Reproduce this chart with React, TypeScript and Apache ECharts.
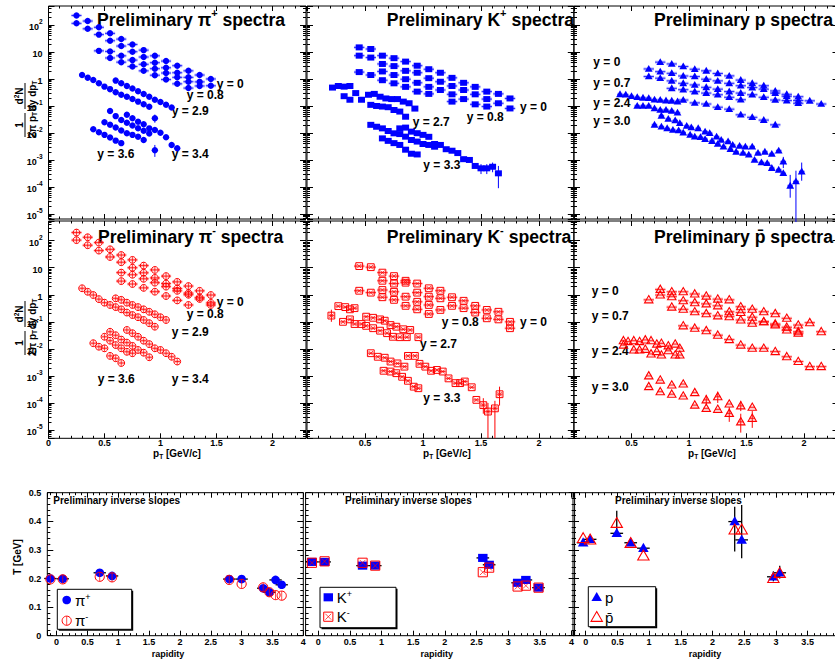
import React, { useEffect, useRef } from "react";
import * as echarts from "echarts";

const FF = '"Liberation Sans", Arial, Helvetica, sans-serif';
const BLUE = "#0000ff";
const RED = "#ff0000";
const BLUE_BAND = "rgba(90,90,255,0.35)";
const RED_BAND = "rgba(255,90,90,0.35)";

// ---------- spectra: [pT (GeV/c), 1/(2pi pT) d2N/dy dpT] ----------
const PIP_Y0 = [
  [0.25, 225], [0.35, 140], [0.45, 82], [0.55, 49], [0.65, 30], [0.75, 19], [0.85, 11.7], [0.95, 7.2], [1.05, 4.6], [1.15, 3.1], [1.25, 2.0], [1.35, 1.4], [1.45, 1.0],
  [0.25, 115], [0.35, 72], [0.45, 44], [0.55, 26], [0.65, 16.6], [0.75, 10.2], [0.85, 6.5], [0.95, 4.0], [1.05, 2.6], [1.15, 1.7], [1.25, 1.15], [1.35, 0.78], [1.45, 0.56],
];
const PIP_Y08 = [
  [0.45, 11], [0.55, 10.5], [0.65, 7.2], [0.75, 5.0], [0.85, 3.5], [0.95, 2.4], [1.05, 1.66], [1.15, 1.15], [1.25, 0.79], [1.35, 0.55],
  [0.55, 6.0], [0.65, 4.2], [0.75, 2.9], [0.85, 2.0], [0.95, 1.38], [1.05, 0.95], [1.15, 0.66], [1.25, 0.46],
];
const PIP_Y29 = [
  [0.3, 1.41], [0.35, 1.12], [0.4, 0.92], [0.45, 0.69], [0.5, 0.52], [0.55, 0.42], [0.6, 0.32], [0.65, 0.26], [0.7, 0.22], [0.75, 0.18], [0.8, 0.145], [0.85, 0.115], [0.9, 0.094], [0.95, 0.035],
  [0.6, 0.87], [0.65, 0.69], [0.7, 0.55], [0.75, 0.44], [0.8, 0.35], [0.85, 0.28], [0.9, 0.22], [0.95, 0.17], [1.0, 0.14], [1.05, 0.11], [1.1, 0.087],
];
const PIP_Y34 = [
  [0.7, 0.047], [0.75, 0.035], [0.8, 0.026], [0.85, 0.021], [0.9, 0.0148], [0.95, 0.0128], [1.0, 0.0102], [1.05, 0.0069], [1.1, 0.0036], [1.15, 0.0027],
  [0.55, 0.065], [0.6, 0.042], [0.65, 0.03], [0.7, 0.024], [0.75, 0.019], [0.8, 0.015], [0.85, 0.012], [0.9, 0.0095], [0.95, 0.0023],
];
const PIP_Y36 = [
  [0.5, 0.025], [0.55, 0.02], [0.6, 0.0158], [0.65, 0.0123], [0.7, 0.0098], [0.75, 0.0085], [0.8, 0.0072], [0.85, 0.0055],
  [0.4, 0.0138], [0.45, 0.0107], [0.5, 0.0085], [0.55, 0.0068], [0.6, 0.0052], [0.65, 0.0042],
];
const PIP_ERR = [[0.95, 0.035, 0.024, 0.048], [0.95, 0.0023, 0.0013, 0.0036]];

const KP_Y0 = [
  [0.45, 14.8], [0.55, 12.9], [0.65, 7.3], [0.75, 5.9], [0.85, 4.4], [0.95, 3.1], [1.05, 2.3], [1.15, 1.7], [1.25, 1.1], [1.35, 0.72], [1.45, 0.51], [1.55, 0.34], [1.65, 0.28], [1.75, 0.19],
  [0.45, 7.3], [0.55, 6.2], [0.65, 3.6], [0.75, 3.0], [0.85, 2.0], [0.95, 1.7], [1.05, 1.07], [1.15, 0.79], [1.25, 0.55], [1.35, 0.39], [1.45, 0.27], [1.55, 0.18], [1.65, 0.126], [1.75, 0.081],
];
const KP_Y08 = [
  [0.45, 1.8], [0.55, 1.4], [0.65, 1.9], [0.75, 1.4], [0.85, 0.98], [0.95, 0.72], [1.05, 0.51], [1.15, 0.39], [1.25, 0.27], [1.35, 0.18], [1.45, 0.115], [1.55, 0.095],
  [0.65, 0.9], [0.75, 0.69], [0.85, 0.51], [0.95, 0.34], [1.05, 0.28], [1.25, 0.145],
];
const KP_Y27 = [
  [0.22, 0.48], [0.27, 0.55], [0.32, 0.52], [0.37, 0.55],
  [0.32, 0.23], [0.37, 0.17], [0.42, 0.3], [0.47, 0.17],
  [0.53, 0.26], [0.58, 0.28], [0.63, 0.22], [0.68, 0.19], [0.73, 0.18], [0.78, 0.18], [0.83, 0.145], [0.88, 0.126], [0.93, 0.08],
  [0.55, 0.11], [0.6, 0.1], [0.65, 0.095], [0.7, 0.09], [0.75, 0.071], [0.8, 0.062], [0.85, 0.04],
];
const KP_Y33 = [
  [0.55, 0.02], [0.6, 0.017], [0.65, 0.0148], [0.7, 0.0118], [0.75, 0.0097], [0.8, 0.0091], [0.85, 0.0073], [0.9, 0.0055], [0.95, 0.0048], [1.0, 0.0039], [1.05, 0.0036], [1.1, 0.0031],
  [0.8, 0.0148], [0.85, 0.0158], [0.9, 0.0112], [0.95, 0.0098], [1.0, 0.0085], [1.05, 0.0072], [1.1, 0.0039], [1.15, 0.0036], [1.2, 0.0025], [1.25, 0.0022], [1.3, 0.0018], [1.35, 0.00107], [1.4, 0.001], [1.45, 0.0006], [1.5, 0.00049], [1.55, 0.00049], [1.6, 0.00056], [1.65, 0.00032],
  [0.65, 0.0063], [0.7, 0.0051], [0.75, 0.0042], [0.8, 0.0036], [0.85, 0.0024], [0.9, 0.0017], [0.95, 0.0016],
];
const KP_ERR = [[1.65, 0.00032, 0.00009, 0.0006], [1.5, 0.00049, 0.0003, 0.0007], [1.55, 0.00049, 0.0003, 0.0007], [1.6, 0.00056, 0.00035, 0.0008]];

const P_Y0 = [
  [0.75, 4.2], [0.85, 3.6], [0.95, 2.9], [1.05, 2.3], [1.15, 2.0], [1.25, 1.6], [1.35, 1.3], [1.45, 0.91], [1.55, 0.69], [1.65, 0.56], [1.75, 0.36], [1.85, 0.27], [1.95, 0.22], [2.05, 0.155], [2.15, 0.118],
  [0.65, 2.35], [0.75, 1.86], [0.85, 1.62], [0.95, 1.29], [1.05, 1.23], [1.15, 0.98], [1.25, 0.85], [1.35, 0.69], [1.45, 0.56], [1.55, 0.48], [1.65, 0.42], [1.75, 0.3], [1.85, 0.23], [1.95, 0.16],
];
const P_Y07 = [
  [0.65, 1.23], [0.75, 1.07], [0.85, 0.85], [0.95, 0.69], [1.05, 0.6], [1.15, 0.49], [1.25, 0.42], [1.35, 0.34], [1.45, 0.3], [1.55, 0.26], [1.65, 0.21], [1.75, 0.166], [1.85, 0.158], [1.95, 0.126],
  [0.85, 0.45], [0.95, 0.4], [1.05, 0.34], [1.15, 0.3], [1.25, 0.26], [1.35, 0.21], [1.45, 0.17],
  [0.95, 0.166], [1.05, 0.13], [1.15, 0.118], [1.25, 0.09], [1.35, 0.076], [1.45, 0.047], [1.55, 0.038], [1.65, 0.03], [1.75, 0.02],
];
const P_Y24 = [
  [0.4, 0.27], [0.45, 0.26], [0.5, 0.23], [0.55, 0.21], [0.6, 0.2], [0.65, 0.195], [0.7, 0.17], [0.75, 0.166], [0.8, 0.158], [0.85, 0.155], [0.9, 0.145],
  [0.55, 0.1], [0.6, 0.1], [0.65, 0.1], [0.7, 0.081], [0.75, 0.071], [0.8, 0.071], [0.85, 0.065], [0.9, 0.056],
];
const P_Y30 = [
  [0.76, 0.043], [0.82, 0.033], [0.88, 0.029], [0.92, 0.023], [0.98, 0.018], [1.02, 0.016], [1.08, 0.0148], [1.14, 0.0112], [1.18, 0.0098], [1.24, 0.0072], [1.28, 0.0055], [1.34, 0.0048], [1.38, 0.0036], [1.44, 0.0033], [1.49, 0.0031], [1.55, 0.0031], [1.6, 0.0018], [1.66, 0.002], [1.72, 0.00166], [1.78, 0.0022], [1.82, 0.00087],
  [0.7, 0.02], [0.76, 0.017], [0.81, 0.0148], [0.86, 0.0129], [0.91, 0.0123], [0.95, 0.0102], [1.01, 0.0085], [1.05, 0.0072], [1.1, 0.0069], [1.14, 0.0059], [1.2, 0.005], [1.25, 0.0039], [1.3, 0.0031], [1.36, 0.0025], [1.41, 0.002], [1.47, 0.0018], [1.52, 0.00155], [1.57, 0.001], [1.63, 0.00081], [1.68, 0.00076], [1.72, 0.0005], [1.78, 0.00043], [1.82, 0.00032],
  [1.88, 0.00011], [1.93, 0.00016], [1.98, 0.00037],
];
const P_ERR = [[1.88, 0.00011, 0.00004, 0.00028], [1.93, 0.00016, 0.000005, 0.0004], [1.98, 0.00037, 0.00017, 0.0008], [1.82, 0.00087, 0.0005, 0.0013]];

const PIM_Y0 = [
  [0.25, 200], [0.35, 134], [0.45, 85], [0.55, 48], [0.65, 29.5], [0.75, 19.5], [0.85, 12], [0.95, 8.3], [1.05, 4.9], [1.15, 3.0], [1.25, 2.1], [1.35, 1.4], [1.45, 0.98],
  [0.25, 105], [0.35, 68], [0.45, 43], [0.55, 25], [0.65, 16], [0.75, 10], [0.85, 6.5], [0.95, 4.2], [1.05, 2.6], [1.15, 1.7], [1.25, 1.15], [1.35, 0.8], [1.45, 0.42],
];
const PIM_Y08 = [
  [0.65, 6.6], [0.75, 5.5], [0.85, 3.9], [0.95, 2.8], [1.05, 2.0], [1.15, 1.4], [1.25, 1.0], [1.35, 0.7], [1.45, 0.5],
  [0.65, 3.2], [0.75, 2.5], [0.85, 1.8], [0.95, 1.3], [1.05, 0.9], [1.15, 0.62], [1.25, 0.42],
];
const PIM_Y29 = [
  [0.3, 1.74], [0.35, 1.29], [0.4, 0.98], [0.45, 0.69], [0.5, 0.51], [0.55, 0.42], [0.6, 0.35], [0.65, 0.29], [0.7, 0.22], [0.75, 0.178], [0.8, 0.148], [0.85, 0.117], [0.9, 0.089], [0.95, 0.066],
  [0.6, 0.74], [0.65, 0.65], [0.7, 0.51], [0.75, 0.42], [0.8, 0.35], [0.85, 0.29], [0.9, 0.235], [0.95, 0.19], [1.0, 0.148], [1.05, 0.117],
];
const PIM_Y34 = [
  [0.7, 0.05], [0.75, 0.038], [0.8, 0.028], [0.85, 0.02], [0.9, 0.015], [0.95, 0.0105], [1.0, 0.0091], [1.05, 0.0069], [1.1, 0.0051], [1.15, 0.0034],
  [0.55, 0.043], [0.6, 0.032], [0.65, 0.022], [0.7, 0.017], [0.75, 0.0129], [0.8, 0.0091], [0.85, 0.0072], [0.9, 0.0049],
];
const PIM_Y36 = [
  [0.5, 0.028], [0.55, 0.02], [0.6, 0.0138], [0.65, 0.0105], [0.7, 0.0078], [0.75, 0.0069],
  [0.4, 0.0162], [0.45, 0.012], [0.5, 0.0105], [0.55, 0.0055], [0.6, 0.0045], [0.65, 0.003],
];

const KM_Y0 = [
  [0.45, 11.5], [0.55, 10.5], [0.65, 6.6], [0.75, 4.9], [0.85, 3.3], [0.95, 2.6], [1.05, 1.74], [1.15, 1.41], [1.25, 0.81], [1.35, 0.6], [1.45, 0.39], [1.55, 0.275], [1.65, 0.235], [1.75, 0.1],
  [0.65, 3.3], [0.75, 2.6], [0.85, 2.8], [0.95, 1.2], [1.05, 0.85], [1.15, 0.74], [1.25, 0.39], [1.35, 0.32], [1.45, 0.22], [1.55, 0.135], [1.65, 0.123], [1.75, 0.058],
];
const KM_Y08 = [
  [0.45, 1.41], [0.55, 1.2], [0.65, 1.5], [0.75, 1.29], [0.85, 0.85], [0.95, 0.55], [1.05, 0.42], [1.15, 0.275],
  [0.65, 0.81], [0.75, 0.65], [0.85, 0.39], [0.95, 0.29], [1.05, 0.195],
];
const KM_Y27 = [
  [0.21, 0.17], [0.27, 0.38], [0.33, 0.35], [0.37, 0.29], [0.41, 0.32],
  [0.51, 0.155], [0.57, 0.141], [0.63, 0.123], [0.67, 0.11], [0.72, 0.076], [0.77, 0.066], [0.83, 0.053], [0.89, 0.05], [0.96, 0.027],
  [0.31, 0.1], [0.37, 0.123], [0.41, 0.083], [0.47, 0.083], [0.51, 0.071], [0.57, 0.058], [0.63, 0.047], [0.69, 0.038], [0.74, 0.028], [0.8, 0.027], [0.86, 0.027],
];
const KM_Y33 = [
  [0.55, 0.0069], [0.61, 0.0051], [0.67, 0.0047], [0.72, 0.0034], [0.78, 0.0029], [0.84, 0.0022],
  [0.87, 0.0055], [0.93, 0.0055], [0.97, 0.0028], [1.02, 0.0022], [1.07, 0.00155], [1.12, 0.00166], [1.17, 0.00145], [1.22, 0.00081], [1.28, 0.00054], [1.32, 0.00054], [1.36, 0.00062], [1.42, 0.00038], [1.46, 0.00013], [1.52, 0.000083], [1.56, 0.000048], [1.62, 0.000063], [1.66, 0.00021],
  [0.66, 0.00155], [0.72, 0.00145], [0.77, 0.00126], [0.82, 0.00093], [0.87, 0.00066], [0.92, 0.0004], [0.96, 0.00035],
];
const KM_ERR = [[0.21, 0.17, 0.1, 0.28], [1.52, 0.000083, 0.00004, 0.00015], [1.56, 0.000048, 0.000005, 0.0001], [1.62, 0.000063, 0.000005, 0.00012], [1.66, 0.00021, 0.00008, 0.0004]];

const PBAR_Y0 = [
  [0.75, 1.58], [0.85, 1.29], [0.95, 1.29], [1.05, 1.07], [1.15, 0.89], [1.25, 0.69], [1.35, 0.65], [1.45, 0.36], [1.55, 0.29], [1.65, 0.235], [1.75, 0.2], [1.85, 0.135], [1.95, 0.076], [2.05, 0.093], [2.15, 0.043],
  [0.65, 0.65], [0.75, 0.98], [0.85, 0.85], [0.95, 0.6], [1.05, 0.51], [1.15, 0.46], [1.25, 0.39], [1.35, 0.235], [1.45, 0.22], [1.55, 0.148], [1.65, 0.1], [1.75, 0.083], [1.85, 0.05], [1.95, 0.043],
];
const PBAR_Y07 = [
  [0.85, 0.35], [0.95, 0.29], [1.05, 0.235], [1.15, 0.2], [1.25, 0.166], [1.35, 0.155], [1.45, 0.117], [1.55, 0.089], [1.65, 0.1], [1.75, 0.076], [1.85, 0.063], [1.95, 0.038],
  [0.95, 0.071], [1.05, 0.058], [1.15, 0.047], [1.25, 0.032], [1.35, 0.022], [1.45, 0.0138], [1.55, 0.0105], [1.65, 0.0105], [1.75, 0.0079], [1.85, 0.0051], [1.95, 0.0034], [2.05, 0.0022], [2.15, 0.0022],
];
const PBAR_Y24 = [
  [0.43, 0.02], [0.47, 0.0186], [0.52, 0.02], [0.57, 0.0186], [0.62, 0.0214], [0.67, 0.02], [0.72, 0.015], [0.76, 0.016], [0.82, 0.0129], [0.88, 0.015], [0.92, 0.0105],
  [0.43, 0.0138], [0.52, 0.0091], [0.57, 0.0091], [0.62, 0.0096], [0.67, 0.0065], [0.72, 0.0079], [0.76, 0.0059], [0.82, 0.0085], [0.88, 0.0059], [0.92, 0.0059],
];
const PBAR_Y30 = [
  [0.65, 0.001], [0.75, 0.0007], [0.85, 0.00046], [0.95, 0.0005], [1.05, 0.00024], [1.15, 0.00013], [1.25, 0.00017], [1.35, 0.000091], [1.45, 0.000078], [1.55, 0.000069],
  [0.65, 0.0004], [0.75, 0.00026], [0.85, 0.00021], [0.95, 0.00018], [1.05, 0.000083], [1.15, 0.000063], [1.25, 0.000058], [1.35, 0.000041], [1.45, 0.00002], [1.55, 0.000027],
];
const PBAR_ERR = [[1.15, 0.00013, 0.00008, 0.0002], [1.25, 0.00017, 0.0001, 0.00026], [1.35, 0.000041, 0.00002, 0.00007], [1.45, 0.000078, 0.00005, 0.00012], [1.45, 0.00002, 0.000008, 0.00004], [1.55, 0.000027, 0.000012, 0.00005]];

// ---------- inverse slopes ----------
const RAP_PI = [-0.1, 0.1, 0.7, 0.9, 2.8, 3.0, 3.35, 3.45, 3.55, 3.65];
const T_PIP = [0.2, 0.199, 0.22, 0.209, 0.198, 0.198, 0.166, 0.152, 0.195, 0.178];
const T_PIM = [0.197, 0.197, 0.206, 0.204, 0.195, 0.181, 0.169, 0.152, 0.142, 0.14];
const RAP_K = [-0.1, 0.1, 0.7, 0.9, 2.6, 2.7, 3.15, 3.28, 3.48];
const T_KP = [0.258, 0.258, 0.245, 0.245, 0.272, 0.248, 0.185, 0.195, 0.168];
const T_KM = [0.255, 0.26, 0.255, 0.245, 0.222, 0.238, 0.172, 0.175, 0.168];
const RAP_P = [-0.04, 0.07, 0.49, 0.71, 0.91, 2.35, 2.46, 2.96, 3.06];
const T_P = [0.325, 0.337, 0.358, 0.325, 0.306, 0.399, 0.335, 0.206, 0.22];
const T_PBAR = [0.34, 0.335, 0.393, 0.323, 0.279, 0.37, 0.37, 0.2, 0.218];
const P_T_ERR = [[0.49, 0.352, 0.437], [2.35, 0.294, 0.451], [2.46, 0.271, 0.457], [2.96, 0.19, 0.225], [3.06, 0.2, 0.245]];

const SPEC_TICKS_X = ["0", "0.5", "1", "1.5", "2"];
const RAP_TICKS = ["0", "0.5", "1", "1.5", "2", "2.5", "3", "3.5", "4"];
const RAP_TICKS_LAST = ["0", "0.5", "1", "1.5", "2", "2.5", "3", "3.5"];

// ---------- layout ----------
const SPEC_LAYOUT = [
  { left: 48.5, top: 6, width: 257.5, height: 213, ymin: 6.5e-6, ymax: 505 },
  { left: 307, top: 6, width: 266.8, height: 213, ymin: 6.5e-6, ymax: 505 },
  { left: 574, top: 6, width: 264.5, height: 213, ymin: 6.5e-6, ymax: 505 },
  { left: 48.5, top: 221, width: 257.5, height: 217.3, ymin: 4.93e-6, ymax: 535 },
  { left: 307, top: 221, width: 266.8, height: 217.3, ymin: 4.93e-6, ymax: 535 },
  { left: 574, top: 221, width: 264.5, height: 217.3, ymin: 4.93e-6, ymax: 535 },
];
const BOT_LAYOUT = [
  { left: 47.3, top: 492.7, width: 256, height: 143, xmin: -0.15, xmax: 4.0 },
  { left: 305.6, top: 492.7, width: 269, height: 143, xmin: -0.2, xmax: 4.05 },
  { left: 573, top: 492.7, width: 269.5, height: 143, xmin: -0.2, xmax: 4.05 },
];

const SPEC_PANELS = [
  { groups: [PIP_Y0, PIP_Y08], fwd: [PIP_Y29, PIP_Y34, PIP_Y36], err: PIP_ERR, marker: "circleFilled", color: BLUE, band: BLUE_BAND },
  { groups: [KP_Y0, KP_Y08], fwd: [KP_Y27, KP_Y33], err: KP_ERR, marker: "squareFilled", color: BLUE, band: BLUE_BAND },
  { groups: [P_Y0, P_Y07], fwd: [P_Y24, P_Y30], err: P_ERR, marker: "triFilled", color: BLUE, band: BLUE_BAND },
  { groups: [PIM_Y0, PIM_Y08], fwd: [PIM_Y29, PIM_Y34, PIM_Y36], err: [], marker: "circleOpen", color: RED, band: RED_BAND },
  { groups: [KM_Y0, KM_Y08], fwd: [KM_Y27, KM_Y33], err: KM_ERR, marker: "squareOpen", color: RED, band: RED_BAND },
  { groups: [PBAR_Y0, PBAR_Y07], fwd: [PBAR_Y24, PBAR_Y30], err: PBAR_ERR, marker: "triOpen", color: RED, band: RED_BAND },
];

function markerShapes(kind: string, x: number, y: number, color: string, s: number): any[] {
  switch (kind) {
    case "circleFilled":
      return [{ type: "circle", shape: { cx: x, cy: y, r: 3.2 * s }, style: { fill: color } }];
    case "squareFilled":
      return [{ type: "rect", shape: { x: x - 3.5 * s, y: y - 3 * s, width: 7 * s, height: 6 * s }, style: { fill: color } }];
    case "triFilled":
      return [{ type: "polygon", shape: { points: [[x, y - 4 * s], [x + 3.9 * s, y + 2.8 * s], [x - 3.9 * s, y + 2.8 * s]] }, style: { fill: color } }];
    case "circleOpen":
      return [
        { type: "circle", shape: { cx: x, cy: y, r: 3.4 * s }, style: { fill: "none", stroke: color, lineWidth: 1 } },
        { type: "line", shape: { x1: x, y1: y - 3.4 * s, x2: x, y2: y + 3.4 * s }, style: { stroke: color, lineWidth: 0.7 } },
      ];
    case "squareOpen":
      return [
        { type: "rect", shape: { x: x - 3.4 * s, y: y - 3.4 * s, width: 6.8 * s, height: 6.8 * s }, style: { fill: "none", stroke: color, lineWidth: 1 } },
        { type: "line", shape: { x1: x - 2.2 * s, y1: y - 2.2 * s, x2: x + 2.2 * s, y2: y + 2.2 * s }, style: { stroke: color, lineWidth: 0.7 } },
        { type: "line", shape: { x1: x - 2.2 * s, y1: y + 2.2 * s, x2: x + 2.2 * s, y2: y - 2.2 * s }, style: { stroke: color, lineWidth: 0.7 } },
      ];
    case "triOpen":
    default:
      return [{ type: "polygon", shape: { points: [[x, y - 4.3 * s], [x + 4.2 * s, y + 3 * s], [x - 4.2 * s, y + 3 * s]] }, style: { fill: "none", stroke: color, lineWidth: 1.1 } }];
  }
}

const spectraRender = (kind: string, color: string, band: string, hw: number) => (params: any, api: any) => {
  const x = api.value(0), y = api.value(1);
  const c = api.coord([x, y]);
  const l = api.coord([x - hw, y]);
  const r = api.coord([x + hw, y]);
  return {
    type: "group",
    children: [
      { type: "rect", shape: { x: l[0], y: c[1] - 1.6, width: r[0] - l[0], height: 3.2 }, style: { fill: band } },
      { type: "line", shape: { x1: l[0], y1: c[1], x2: r[0], y2: c[1] }, style: { stroke: color, lineWidth: 0.8 } },
      ...markerShapes(kind, c[0], c[1], color, 1),
    ],
  };
};

const vErrRender = (color: string, lw: number) => (params: any, api: any) => {
  const x = api.value(0);
  const a = api.coord([x, api.value(2)]);
  const b = api.coord([x, api.value(3)]);
  return { type: "line", shape: { x1: a[0], y1: a[1], x2: b[0], y2: b[1] }, style: { stroke: color, lineWidth: lw } };
};

const slopeRender = (kind: string, color: string) => (params: any, api: any) => {
  const c = api.coord([api.value(0), api.value(1)]);
  return { type: "group", children: markerShapes(kind, c[0], c[1], color, 1.35) };
};

const hErrRender = (params: any, api: any) => {
  const x = api.value(0), y = api.value(1);
  const l = api.coord([x - 0.1, y]);
  const r = api.coord([x + 0.1, y]);
  return { type: "line", shape: { x1: l[0], y1: l[1], x2: r[0], y2: r[1] }, style: { stroke: "#000", lineWidth: 1.3 } };
};

const RICH = {
  b: { fontFamily: FF, fontWeight: "bold", fontSize: 9, color: "#000", lineHeight: 13, verticalAlign: "bottom" },
  s: { fontFamily: FF, fontWeight: "bold", fontSize: 6.5, color: "#000", lineHeight: 7, verticalAlign: "top" },
};

function logLabel(v: number) {
  const e = Math.log10(v);
  const r = Math.round(e);
  if (Math.abs(e - r) > 1e-6) return "";
  if (r === 0) return "{b|1}";
  if (r === 1) return "{b|10}";
  return "{b|10}{s|" + r + "}";
}

function halfLabel(v: number, hideZero: boolean, list: string[]) {
  const k = v / 0.5;
  if (Math.abs(k - Math.round(k)) > 1e-6) return "";
  if (hideZero && Math.abs(v) < 1e-9) return "";
  const s = String(Number(v.toFixed(3)));
  if (list.indexOf(s) < 0) return "";
  return s;
}

const tickStyle = { color: "#000", width: 1 };
const labelBase = { fontFamily: FF, fontWeight: "bold", fontSize: 9, color: "#000" };
const noLine = { show: false, onZero: false };

function txt(text: string, x: number, y: number, size: number, opts: any = {}) {
  return {
    type: "text",
    x,
    y,
    silent: true,
    rotation: opts.rotation || 0,
    style: {
      text,
      fill: "#000",
      fontFamily: FF,
      fontWeight: opts.weight || "bold",
      fontSize: size,
      align: opts.align || "left",
      textAlign: opts.align || "left",
      verticalAlign: "middle",
      textVerticalAlign: "middle",
      rich: opts.rich,
    },
  };
}

function buildOption() {
  const grid: any[] = [];
  const xAxis: any[] = [];
  const yAxis: any[] = [];
  const series: any[] = [];
  const extraX: any[] = [];
  const extraY: any[] = [];

  SPEC_LAYOUT.forEach((g, i) => {
    const row = i < 3 ? 0 : 1;
    const col = i % 3;
    grid.push({ left: g.left, top: g.top, width: g.width, height: g.height, show: true, borderColor: "#000", borderWidth: 1, backgroundColor: "transparent", containLabel: false, outerBoundsMode: "none" });
    const xBase = {
      gridIndex: i, type: "value", min: 0, max: 2.3, splitNumber: 5, minInterval: 0.5, maxInterval: 0.5,
      axisLine: noLine, splitLine: { show: false },
      axisTick: { inside: true, length: 5, lineStyle: tickStyle },
      minorTick: { show: true, splitNumber: 5, length: 2.5, lineStyle: tickStyle },
    };
    xAxis.push({ ...xBase, position: "bottom", axisLabel: { show: row === 1, ...labelBase, margin: 0, formatter: (v: number) => halfLabel(v, col > 0, SPEC_TICKS_X) } });
    extraX.push({ ...xBase, position: "top", axisLabel: { show: false } });
    const yBase = {
      gridIndex: i, type: "log", logBase: 10, min: g.ymin, max: g.ymax,
      axisLine: noLine, splitLine: { show: false },
      axisTick: { inside: true, length: 6, lineStyle: tickStyle },
      minorTick: { show: true, splitNumber: 9, length: 3, lineStyle: tickStyle },
    };
    yAxis.push({ ...yBase, position: "left", axisLabel: { show: col === 0, margin: 6, formatter: logLabel, rich: RICH } });
    extraY.push({ ...yBase, position: "right", axisLabel: { show: false } });

    const P = SPEC_PANELS[i];
    P.err.length && series.push({ type: "custom", xAxisIndex: i, yAxisIndex: i, data: P.err, renderItem: vErrRender(P.color, 1), silent: true, z: 2 });
    P.groups.forEach((d) => series.push({ type: "custom", xAxisIndex: i, yAxisIndex: i, data: d, renderItem: spectraRender(P.marker, P.color, P.band, 0.045), silent: true, z: 3 }));
    P.fwd.forEach((d) => series.push({ type: "custom", xAxisIndex: i, yAxisIndex: i, data: d, renderItem: spectraRender(P.marker, P.color, P.band, 0.024), silent: true, z: 3 }));
  });

  const BOT = [
    { a: RAP_PI.map((r, k) => [r, T_PIP[k]]), b: RAP_PI.map((r, k) => [r, T_PIM[k]]), ma: "circleFilled", mb: "circleOpen" },
    { a: RAP_K.map((r, k) => [r, T_KP[k]]), b: RAP_K.map((r, k) => [r, T_KM[k]]), ma: "squareFilled", mb: "squareOpen" },
    { a: RAP_P.map((r, k) => [r, T_P[k]]), b: RAP_P.map((r, k) => [r, T_PBAR[k]]), ma: "triFilled", mb: "triOpen" },
  ];

  BOT_LAYOUT.forEach((g, j) => {
    const i = SPEC_LAYOUT.length + j;
    grid.push({ left: g.left, top: g.top, width: g.width, height: g.height, show: true, borderColor: "#000", borderWidth: 1, backgroundColor: "transparent", containLabel: false, outerBoundsMode: "none" });
    const xBase = {
      gridIndex: i, type: "value", min: g.xmin, max: g.xmax, splitNumber: 8, minInterval: 0.5, maxInterval: 0.5,
      axisLine: noLine, splitLine: { show: false },
      axisTick: { inside: true, length: 5, lineStyle: tickStyle },
      minorTick: { show: true, splitNumber: 5, length: 2.5, lineStyle: tickStyle },
    };
    const ticks = j === 2 ? RAP_TICKS_LAST : RAP_TICKS;
    xAxis.push({ ...xBase, position: "bottom", axisLabel: { show: true, ...labelBase, margin: 2, formatter: (v: number) => halfLabel(v, false, ticks) } });
    extraX.push({ ...xBase, position: "top", axisLabel: { show: false } });
    const yBase = {
      gridIndex: i, type: "value", min: 0, max: 0.5, interval: 0.1,
      axisLine: noLine, splitLine: { show: false },
      axisTick: { inside: true, length: 6, lineStyle: tickStyle },
      minorTick: { show: true, splitNumber: 5, length: 3, lineStyle: tickStyle },
    };
    yAxis.push({ ...yBase, position: "left", axisLabel: { show: j === 0, ...labelBase, margin: 6, formatter: (v: number) => String(Number(v.toFixed(2))) } });
    extraY.push({ ...yBase, position: "right", axisLabel: { show: false } });

    const B = BOT[j];
    if (j === 2) series.push({ type: "custom", xAxisIndex: i, yAxisIndex: i, data: P_T_ERR.map((e) => [e[0], (e[1] + e[2]) / 2, e[1], e[2]]), renderItem: vErrRender("#000", 1.3), silent: true, z: 2 });
    series.push({ type: "custom", xAxisIndex: i, yAxisIndex: i, data: B.a, renderItem: hErrRender, silent: true, z: 2 });
    series.push({ type: "custom", xAxisIndex: i, yAxisIndex: i, data: B.a, renderItem: slopeRender(B.ma, BLUE), silent: true, z: 3 });
    series.push({ type: "custom", xAxisIndex: i, yAxisIndex: i, data: B.b, renderItem: slopeRender(B.mb, RED), silent: true, z: 4 });
  });

  extraX.forEach((a) => xAxis.push(a));
  extraY.forEach((a) => yAxis.push(a));

  const SUP = {
    t: { fontFamily: FF, fontWeight: "bold", fontSize: 17.6, color: "#000", lineHeight: 21, verticalAlign: "bottom" },
    s: { fontFamily: FF, fontWeight: "bold", fontSize: 11, color: "#000", lineHeight: 14, verticalAlign: "top" },
  };
  const graphic: any[] = [];
  graphic.push(txt("{t|Preliminary π}{s|+}{t| spectra}", 97, 18, 17.6, { rich: SUP }));
  graphic.push(txt("{t|Preliminary K}{s|+}{t| spectra}", 386.7, 18, 17.6, { rich: SUP }));
  graphic.push(txt("{t|Preliminary p spectra}", 654, 18, 17.6, { rich: SUP }));
  graphic.push(txt("{t|Preliminary π}{s|-}{t| spectra}", 98, 235, 17.6, { rich: SUP }));
  graphic.push(txt("{t|Preliminary K}{s|-}{t| spectra}", 386.7, 235, 17.6, { rich: SUP }));
  graphic.push(txt("{t|Preliminary p\u0304 spectra}", 654, 235, 17.6, { rich: SUP }));

  const RL: [string, number, number][] = [
    ["y = 0", 216.7, 84], ["y = 0.8", 186.7, 95], ["y = 2.9", 171.7, 110.7], ["y = 3.6", 97.3, 154], ["y = 3.4", 171.7, 154],
    ["y = 0", 216.7, 301.7], ["y = 0.8", 186.7, 314.3], ["y = 2.9", 171.7, 331.7], ["y = 3.6", 97.7, 379], ["y = 3.4", 171.7, 379],
    ["y = 0", 520, 106.7], ["y = 0.8", 466.7, 117.3], ["y = 2.7", 412.7, 121.7], ["y = 3.3", 423.3, 165],
    ["y = 0.8", 441.7, 321.7], ["y = 0", 520, 321.7], ["y = 2.7", 420, 344], ["y = 3.3", 423.3, 398.3],
    ["y = 0", 593.3, 62.3], ["y = 0.7", 593.3, 83.3], ["y = 2.4", 593.3, 102.7], ["y = 3.0", 593.3, 120.7],
    ["y = 0", 591.7, 290.7], ["y = 0.7", 591.7, 315.7], ["y = 2.4", 591.7, 351], ["y = 3.0", 591.7, 386.7],
  ];
  RL.forEach(([t, x, y]) => graphic.push(txt(t, x, y, 12)));

  const FR = {
    s: { fontFamily: FF, fontWeight: "bold", fontSize: 6.5, color: "#000", lineHeight: 6, verticalAlign: "top" },
    u: { fontFamily: FF, fontWeight: "bold", fontSize: 6.5, color: "#000", lineHeight: 6, verticalAlign: "bottom" },
    m: { fontFamily: FF, fontWeight: "bold", fontSize: 10, color: "#000", lineHeight: 12, verticalAlign: "middle" },
  };
  [110, 328].forEach((cy) => {
    graphic.push({
      type: "group", x: 25, y: cy, rotation: Math.PI / 2, silent: true,
      children: [
        txt("{m|1}", -15, -6, 10, { align: "center", rich: FR }),
        txt("{m|d}{s|2}{m|N}", 14, -6, 10, { align: "center", rich: FR }),
        { type: "line", shape: { x1: -27, y1: 0, x2: -3, y2: 0 }, style: { stroke: "#000", lineWidth: 1 } },
        { type: "line", shape: { x1: 1, y1: 0, x2: 27, y2: 0 }, style: { stroke: "#000", lineWidth: 1 } },
        txt("{m|2π p}{u|T}", -15, 7, 10, { align: "center", rich: FR }),
        txt("{m|dy dp}{u|T}", 14, 7, 10, { align: "center", rich: FR }),
      ],
    });
  });

  const XR = {
    m: { fontFamily: FF, fontWeight: "bold", fontSize: 10, color: "#000", lineHeight: 12, verticalAlign: "middle" },
    u: { fontFamily: FF, fontWeight: "bold", fontSize: 6.5, color: "#000", lineHeight: 6, verticalAlign: "bottom" },
  };
  [177, 447, 712].forEach((x) => graphic.push(txt("{m|p}{u|T}{m| [GeV/c]}", x, 453.5, 10, { align: "center", rich: XR })));
  [168, 436.7, 705].forEach((x) => graphic.push(txt("rapidity", x, 653.5, 9, { align: "center" })));
  graphic.push(txt("T [GeV]", 17, 557, 10, { align: "center", rotation: Math.PI / 2 }));

  [53.3, 345, 615].forEach((x) => graphic.push(txt("Preliminary inverse slopes", x, 500.7, 10)));

  const LR = {
    m: { fontFamily: FF, fontSize: 15, color: "#000", lineHeight: 16, verticalAlign: "middle" },
    s: { fontFamily: FF, fontSize: 9, color: "#000", lineHeight: 8, verticalAlign: "top" },
  };
  const legends = [
    { x0: 57.3, y0: 589.3, x1: 131.7, y1: 629.3, ma: "circleFilled", mb: "circleOpen", la: "{m|π}{s|+}", lb: "{m|π}{s|-}", mx: 66.7, ya: 600, yb: 620.7, tx: 75 },
    { x0: 320, y0: 587.3, x1: 396, y1: 627.7, ma: "squareFilled", mb: "squareOpen", la: "{m|K}{s|+}", lb: "{m|K}{s|-}", mx: 328.3, ya: 597.3, yb: 616.7, tx: 336.7 },
    { x0: 588.3, y0: 586.7, x1: 655.7, y1: 626.7, ma: "triFilled", mb: "triOpen", la: "{m|p}", lb: "{m|p\u0304}", mx: 596.7, ya: 597.3, yb: 617.3, tx: 605 },
  ];
  legends.forEach((L) => {
    graphic.push({ type: "rect", shape: { x: L.x0 + 1.5, y: L.y0 + 1.5, width: L.x1 - L.x0, height: L.y1 - L.y0 }, style: { fill: "#000" }, silent: true });
    graphic.push({ type: "rect", shape: { x: L.x0, y: L.y0, width: L.x1 - L.x0, height: L.y1 - L.y0 }, style: { fill: "#fff", stroke: "#000", lineWidth: 1 }, silent: true });
    markerShapes(L.ma, L.mx, L.ya, BLUE, 1.35).forEach((m) => graphic.push({ ...m, silent: true }));
    markerShapes(L.mb, L.mx, L.yb, RED, 1.35).forEach((m) => graphic.push({ ...m, silent: true }));
    graphic.push(txt(L.la, L.tx, L.ya, 15, { weight: "normal", rich: LR }));
    graphic.push(txt(L.lb, L.tx, L.yb, 15, { weight: "normal", rich: LR }));
  });

  return { animation: false, backgroundColor: "#fff", grid, xAxis, yAxis, series, graphic };
}

export default function App() {
  const ref = useRef<HTMLDivElement>(null);
  useEffect(() => {
    const chart = echarts.init(ref.current as HTMLDivElement, null, { renderer: "svg", width: 835, height: 659 });
    chart.setOption(buildOption() as any);
    return () => chart.dispose();
  }, []);
  return <div ref={ref} style={{ position: "absolute", left: 0, top: 0, width: 835, height: 659, background: "#fff" }} />;
}
